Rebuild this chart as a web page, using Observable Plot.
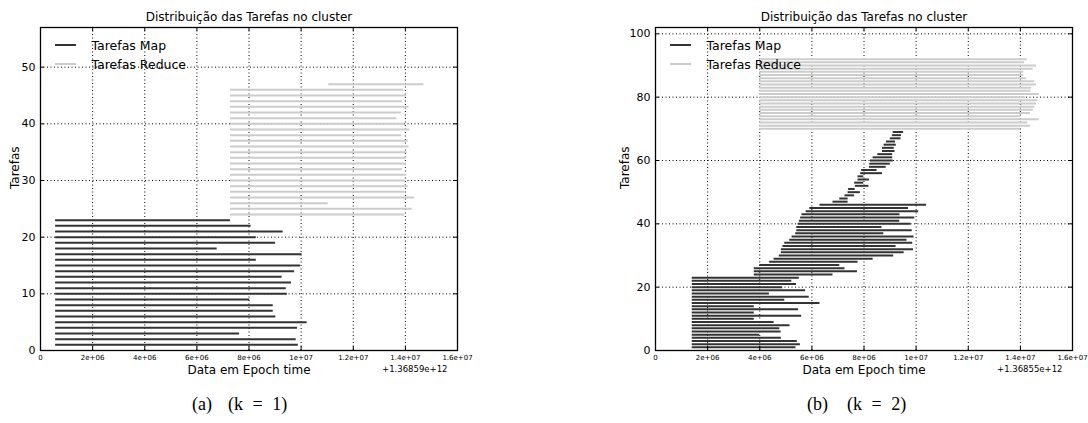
<!DOCTYPE html>
<html>
<head>
<meta charset="utf-8">
<script src="https://cdn.jsdelivr.net/npm/d3@7"></script>
<script src="https://cdn.jsdelivr.net/npm/@observablehq/plot@0.6"></script>
<style>
  html, body { margin: 0; padding: 0; background: #fff; }
  #root { position: relative; width: 1088px; height: 423px; background: #fff; overflow: hidden; }
  .cap { position: absolute; font-family: "Liberation Serif", serif; font-size: 18px; color: #000; white-space: pre; line-height: 1; }
</style>
</head>
<body>
<div id="root"></div>
<script>
// ---------- shared text ----------
const chartTitle = "Distribuição das Tarefas no cluster";
const xLabel = "Data em Epoch time";
const yLabel = "Tarefas";
const legendLabels = ["Tarefas Map", "Tarefas Reduce"];
const xTicks = [0, 2e6, 4e6, 6e6, 8e6, 10e6, 12e6, 14e6, 16e6];
const xTickLabels = ["0", "2e+06", "4e+06", "6e+06", "8e+06", "1e+07", "1.2e+07", "1.4e+07", "1.6e+07"];

// ---------- panel (a): k = 1 ----------
const aOffset = "+1.36859e+12";
const aYTicks = [0, 10, 20, 30, 40, 50];
const aYMax = 57;
const aMapTask = [1,2,3,4,5,6,7,8,9,10,11,12,13,14,15,16,17,18,19,20,21,22,23];
const aMapStart = [0.58e6,0.58e6,0.58e6,0.58e6,0.58e6,0.58e6,0.58e6,0.58e6,0.58e6,0.58e6,0.58e6,0.58e6,
                   0.58e6,0.58e6,0.58e6,0.58e6,0.58e6,0.58e6,0.58e6,0.58e6,0.58e6,0.58e6,0.58e6];
const aMapEnd = [9.89e6,9.81e6,7.64e6,9.86e6,10.23e6,9.03e6,8.93e6,8.93e6,8.03e6,9.47e6,9.43e6,9.63e6,
                 9.27e6,9.75e6,9.98e6,8.28e6,10.03e6,6.78e6,9.02e6,8.28e6,9.31e6,8.08e6,7.29e6];
const aRedTask = [24,25,26,27,28,29,30,31,32,33,34,35,36,37,38,39,40,41,42,43,44,45,46,47];
const aRedStart = [7.29e6,7.29e6,7.29e6,7.29e6,7.29e6,7.29e6,7.29e6,7.29e6,7.29e6,7.29e6,7.29e6,7.29e6,
                   7.29e6,7.29e6,7.29e6,7.29e6,7.29e6,7.29e6,7.29e6,7.29e6,7.29e6,7.29e6,7.29e6,11.06e6];
const aRedEnd = [13.97e6,14.26e6,11.04e6,14.36e6,13.97e6,14.11e6,14.01e6,14.04e6,13.89e6,14.04e6,14.04e6,14.07e6,
                 14.14e6,14.11e6,13.86e6,14.17e6,13.98e6,13.67e6,13.86e6,14.14e6,13.89e6,14.04e6,13.94e6,14.71e6];

// ---------- panel (b): k = 2 ----------
const bOffset = "+1.36855e+12";
const bYTicks = [0, 20, 40, 60, 80, 100];
const bYMax = 102;
const bMapTask = [1,2,3,4,5,6,7,8,9,10,11,12,13,14,15,16,17,18,19,20,21,22,23,
                  24,25,26,27,28,29,30,31,32,33,34,35,36,37,38,39,40,41,42,43,44,45,46,
                  47,48,49,50,51,52,53,54,55,56,57,58,59,60,61,62,63,64,65,66,67,68,69];
const bMapStart = [1.41e6,1.41e6,1.41e6,1.41e6,1.41e6,1.41e6,1.41e6,1.41e6,1.41e6,1.41e6,1.41e6,1.41e6,
                   1.41e6,1.41e6,1.41e6,1.41e6,1.41e6,1.41e6,1.41e6,1.41e6,1.41e6,1.41e6,1.41e6,
                   3.79e6,3.79e6,3.79e6,4.00e6,4.38e6,4.55e6,4.75e6,4.83e6,4.83e6,4.89e6,4.96e6,5.15e6,
                   5.24e6,5.38e6,5.42e6,5.42e6,5.47e6,5.52e6,5.57e6,5.62e6,5.78e6,5.92e6,6.31e6,
                   6.81e6,7.07e6,7.27e6,7.39e6,7.41e6,7.67e6,7.64e6,7.77e6,7.77e6,7.87e6,7.91e6,8.21e6,
                   8.22e6,8.25e6,8.35e6,8.53e6,8.71e6,8.71e6,8.77e6,8.86e6,9.01e6,9.09e6,9.12e6];
const bMapEnd = [5.39e6,5.56e6,5.44e6,4.83e6,4.00e6,4.82e6,4.77e6,5.16e6,4.55e6,3.79e6,5.61e6,3.79e6,
                 5.49e6,3.79e6,6.31e6,4.96e6,5.90e6,4.37e6,5.76e6,4.88e6,5.41e6,5.23e6,5.52e6,
                 6.81e6,7.75e6,7.27e6,7.07e6,7.77e6,8.35e6,9.14e6,9.54e6,9.90e6,9.23e6,9.87e6,9.65e6,
                 9.92e6,8.76e6,9.85e6,8.69e6,9.81e6,9.37e6,9.95e6,9.38e6,10.10e6,9.71e6,10.40e6,
                 7.39e6,7.39e6,7.64e6,7.86e6,7.66e6,8.19e6,7.99e6,8.21e6,7.99e6,8.71e6,8.50e6,8.85e6,
                 9.01e6,9.12e6,9.10e6,9.10e6,9.19e6,9.16e6,9.24e6,9.21e6,9.42e6,9.44e6,9.52e6];
const bRedTask = [70,71,72,73,74,75,76,77,78,79,80,81,82,83,84,85,86,87,88,89,90,91,92];
const bRedStart = [4.0e6,4.0e6,4.0e6,4.0e6,4.0e6,4.0e6,4.0e6,4.0e6,4.0e6,4.0e6,4.0e6,4.0e6,
                   4.0e6,4.0e6,4.0e6,4.0e6,4.0e6,4.0e6,4.0e6,4.0e6,4.0e6,4.0e6,4.0e6];
const bRedEnd = [14.00e6,14.39e6,14.29e6,14.72e6,14.00e6,14.39e6,14.49e6,14.55e6,14.62e6,14.67e6,14.20e6,14.73e6,
                 14.40e6,14.43e6,14.62e6,14.55e6,14.23e6,14.13e6,14.13e6,14.49e6,14.62e6,14.16e6,14.26e6];

// ---------- styling ----------
const MAP_COLOR = "#333333";
const RED_COLOR = "#cccccc";
const SVG_W = 544, SVG_H = 423, M_TOP = 27, M_BOTTOM = 73;

function rows(task, start, end) {
  return task.map((t, i) => ({task: t, start: start[i], end: end[i]}));
}

function panel({left, ml, mr, mapRows, redRows, yMax, yTicks, offset, yLabelDx}) {
  const plotW = SVG_W - ml - mr;
  const plotH = SVG_H - M_TOP - M_BOTTOM;
  const tickLen = 4;
  const svg = Plot.plot({
    width: SVG_W, height: SVG_H,
    marginLeft: ml, marginRight: mr, marginTop: M_TOP, marginBottom: M_BOTTOM,
    style: {fontFamily: "DejaVu Sans", fontSize: "11px", background: "transparent", color: "black"},
    x: {domain: [0, 16e6]},
    y: {domain: [0, yMax]},
    marks: [
      Plot.gridX(xTicks, {stroke: "black", strokeOpacity: 1, strokeWidth: 1, strokeDasharray: "1,2.5"}),
      Plot.gridY(yTicks, {stroke: "black", strokeOpacity: 1, strokeWidth: 1, strokeDasharray: "1,2.5"}),
      Plot.ruleY(redRows, {y: "task", x1: "start", x2: "end", stroke: RED_COLOR, strokeWidth: 2}),
      Plot.ruleY(mapRows, {y: "task", x1: "start", x2: "end", stroke: MAP_COLOR, strokeWidth: 2}),
      // inward tick marks on all four sides
      Plot.tickX(xTicks, {x: d => d, stroke: "black", insetTop: plotH - tickLen}),
      Plot.tickX(xTicks, {x: d => d, stroke: "black", insetBottom: plotH - tickLen}),
      Plot.tickY(yTicks, {y: d => d, stroke: "black", insetRight: plotW - tickLen}),
      Plot.tickY(yTicks, {y: d => d, stroke: "black", insetLeft: plotW - tickLen}),
      Plot.frame({stroke: "black", strokeWidth: 1.3}),
      Plot.axisX(xTicks, {tickSize: 0, tickPadding: 5, fontSize: 7, label: null,
                          tickFormat: d => xTickLabels[xTicks.indexOf(d)]}),
      Plot.axisY(yTicks, {tickSize: 0, tickPadding: 5, fontSize: 11, label: null}),
      Plot.text([xLabel], {frameAnchor: "bottom", dy: 20, fontSize: 12, lineAnchor: "middle"}),
      Plot.text([offset], {frameAnchor: "bottom-right", dx: -10, dy: 19, fontSize: 8.5, textAnchor: "end", lineAnchor: "middle"}),
      Plot.text([yLabel], {frameAnchor: "left", dx: yLabelDx, rotate: -90, fontSize: 12, lineAnchor: "middle"}),
      Plot.text([chartTitle], {frameAnchor: "top", dy: -10, fontSize: 12, lineAnchor: "middle"}),
      Plot.text([legendLabels[0]], {frameAnchor: "top-left", dx: 51, dy: 18, fontSize: 12.5, textAnchor: "start", lineAnchor: "middle"}),
      Plot.text([legendLabels[1]], {frameAnchor: "top-left", dx: 51, dy: 37, fontSize: 12.5, textAnchor: "start", lineAnchor: "middle"})
    ]
  });
  svg.style.position = "absolute";
  svg.style.left = left + "px";
  svg.style.top = "0px";
  // legend swatches
  const g = d3.select(svg).append("g");
  [[MAP_COLOR, 18], [RED_COLOR, 37]].forEach(([c, dy]) => {
    g.append("line").attr("x1", ml + 15).attr("x2", ml + 36)
      .attr("y1", M_TOP + dy).attr("y2", M_TOP + dy)
      .attr("stroke", c).attr("stroke-width", 2);
  });
  return svg;
}

const root = document.getElementById("root");
root.appendChild(panel({
  left: 0, ml: 40, mr: SVG_W - 457,
  mapRows: rows(aMapTask, aMapStart, aMapEnd),
  redRows: rows(aRedTask, aRedStart, aRedEnd),
  yMax: aYMax, yTicks: aYTicks, offset: aOffset, yLabelDx: -25
}));
root.appendChild(panel({
  left: 544, ml: 111, mr: SVG_W - 528,
  mapRows: rows(bMapTask, bMapStart, bMapEnd),
  redRows: rows(bRedTask, bRedStart, bRedEnd),
  yMax: bYMax, yTicks: bYTicks, offset: bOffset, yLabelDx: -30
}));

// captions
const captions = [
  {tag: "(a)", k: "(k = 1)", x: 192, kx: 228},
  {tag: "(b)", k: "(k = 2)", x: 807, kx: 847}
];
captions.forEach(c => {
  const a = document.createElement("div");
  a.className = "cap"; a.textContent = c.tag;
  a.style.left = c.x + "px"; a.style.top = "395px";
  root.appendChild(a);
  const b = document.createElement("div");
  b.className = "cap"; b.textContent = c.k;
  b.style.left = c.kx + "px"; b.style.top = "395px"; b.style.wordSpacing = "5px";
  root.appendChild(b);
});
</script>
</body>
</html>
